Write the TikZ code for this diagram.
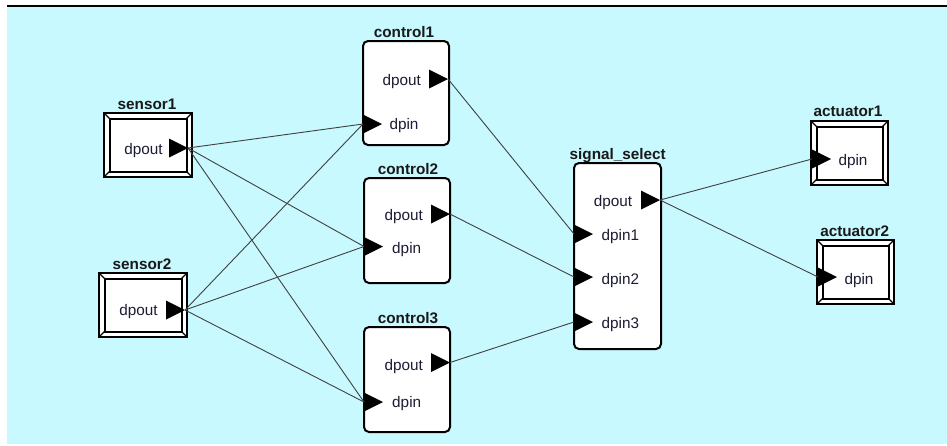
\documentclass[tikz,border=0pt]{standalone}
\usepackage{fontspec}
\setmainfont{Liberation Sans}
\definecolor{canvas}{HTML}{C8F9FF}
\definecolor{labelink}{HTML}{1C1C34}

% framed block with bevelled corners: name, centre, width, height, inner width, inner height
\newcommand\bevelblock[6]{%
  \node[bevelouter, minimum width=#3, minimum height=#4] (#1) at #2 {};
  \node[bevelinner, minimum width=#5, minimum height=#6] (#1-in) at #2 {};
  \foreach \c in {north west, north east, south west, south east}
    \draw[bevelcorner] (#1.\c) -- (#1-in.\c);
}

\begin{document}
\begin{tikzpicture}[x=1pt,y=-1pt,
  every node/.style={inner sep=0pt, outer sep=0pt},
  blockbox/.style={draw=black, fill=white, line width=2pt, rounded corners=5pt},
  bevelouter/.style={draw=black, fill=white, line width=2pt},
  bevelinner/.style={draw=black, line width=2pt},
  bevelcorner/.style={draw=black, line width=1.1pt},
  blocktitle/.style={anchor=base, font=\bfseries\fontsize{15.3}{18}\selectfont, text=black!90},
  portlabel/.style={anchor=base, font=\fontsize{15.3}{18}\selectfont, text=labelink},
  wire/.style={draw=black!75, line width=0.9pt},
  outport/.pic={\fill[black] (-19,-9.5) -- (0,0) -- (-19,9.5) -- cycle;},
  inport/.pic={\fill[black] (0,-9.5) -- (19,0) -- (0,9.5) -- cycle;},
]
\useasboundingbox (0,0) rectangle (947,445);
\fill[white] (0,0) rectangle (947,445);
\fill[canvas] (7,7) rectangle (947,444);
\fill[black] (7,5) rectangle (947,7.3);

% sensors and actuators
\bevelblock{sensor1}{(148,145)}{88}{64}{77}{53}
\bevelblock{sensor2}{(143,305)}{88}{64}{77}{53}
\bevelblock{actuator1}{(849.5,153)}{77}{64}{66}{53}
\bevelblock{actuator2}{(855.5,272)}{77}{64}{66}{53}

% processing blocks
\node[blockbox, minimum width=86, minimum height=104] (control1) at (406,93) {};
\node[blockbox, minimum width=86, minimum height=105] (control2) at (407,230.5) {};
\node[blockbox, minimum width=86, minimum height=105] (control3) at (407,379.5) {};
\node[blockbox, minimum width=87, minimum height=186] (select) at (617.5,256) {};

% block titles
\node[blocktitle] (t-s1) at (147,109) {sensor1};
\node[blocktitle] (t-s2) at (142,269) {sensor2};
\node[blocktitle] (t-c1) at (404,37) {control1};
\node[blocktitle] (t-c2) at (408,174) {control2};
\node[blocktitle] (t-c3) at (408,323.5) {control3};
\node[blocktitle] (t-ss) at (617.7,159) {signal\_select};
\node[blocktitle] (t-a1) at (848,116.7) {actuator1};
\node[blocktitle] (t-a2) at (854.7,236.7) {actuator2};

% ports
\coordinate (s1-out) at (188,148);
\coordinate (s2-out) at (185,310);
\coordinate (c1-out) at (448,79);
\coordinate (c1-in)  at (363,124);
\coordinate (c2-out) at (450,214);
\coordinate (c2-in)  at (364,246.5);
\coordinate (c3-out) at (450,362.5);
\coordinate (c3-in)  at (364,402);
\coordinate (ss-out) at (660,200);
\coordinate (ss-in1) at (574,234);
\coordinate (ss-in2) at (574,277);
\coordinate (ss-in3) at (574,322);
\coordinate (a1-in)  at (812,159);
\coordinate (a2-in)  at (818,277);

\foreach \p in {s1-out, s2-out, c1-out, c2-out, c3-out, ss-out}
  \pic at (\p) {outport};
\foreach \p in {c1-in, c2-in, c3-in, ss-in1, ss-in2, ss-in3, a1-in, a2-in}
  \pic at (\p) {inport};

% port labels
\node[portlabel] (l-s1o) at (143.5,154) {dpout};
\node[portlabel] (l-s2o) at (138.5,315.7) {dpout};
\node[portlabel] (l-c1o) at (401.7,85.7) {dpout};
\node[portlabel] (l-c1i) at (404,129) {dpin};
\node[portlabel] (l-c2o) at (403.7,220.7) {dpout};
\node[portlabel] (l-c2i) at (406.7,253.3) {dpin};
\node[portlabel] (l-c3o) at (403.7,370) {dpout};
\node[portlabel] (l-c3i) at (406.7,407.7) {dpin};
\node[portlabel] (l-sso) at (613,206.7) {dpout};
\node[portlabel] (l-ss1) at (620.3,240.7) {dpin1};
\node[portlabel] (l-ss2) at (620.3,284) {dpin2};
\node[portlabel] (l-ss3) at (620.3,328.3) {dpin3};
\node[portlabel] (l-a1i) at (853,165) {dpin};
\node[portlabel] (l-a2i) at (859,284.3) {dpin};

% signal connections
\foreach \s in {s1-out, s2-out}
  \foreach \t in {c1-in, c2-in, c3-in}
    \draw[wire] (\s) -- (\t);
\draw[wire] (c1-out) -- (ss-in1);
\draw[wire] (c2-out) -- (ss-in2);
\draw[wire] (c3-out) -- (ss-in3);
\draw[wire] (ss-out) -- (a1-in);
\draw[wire] (ss-out) -- (a2-in);
\end{tikzpicture}
\end{document}
